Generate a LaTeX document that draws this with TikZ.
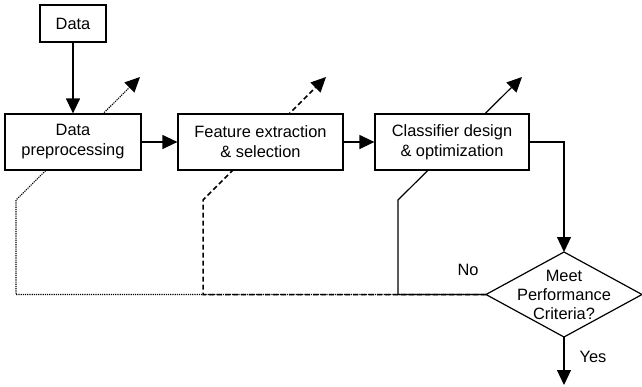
\documentclass[tikz,border=0pt]{standalone}
\usepackage{fontspec}
\setmainfont{Liberation Sans}
\usetikzlibrary{arrows.meta,backgrounds}
\begin{document}
\begin{tikzpicture}[x=1pt,y=-1pt,
  every node/.style={font=\fontsize{16.4}{20}\selectfont},
  box/.style={draw,line width=1.2pt,fill=white,align=center,inner sep=0pt},
  tip/.style={-{Triangle[length=15pt,width=14pt]}},
  flow/.style={line width=1.2pt,tip},
  dotline/.style={line width=1.1pt,dash pattern=on 1.2pt off 1pt,tip},
  dashline/.style={line width=1.5pt,dash pattern=on 5pt off 3pt,tip},
  solidline/.style={line width=1.2pt,tip},
  lbl/.style={inner sep=0pt}]
\useasboundingbox (0,0) rectangle (642,386);

% process boxes
\node[box,minimum width=66pt,minimum height=37pt] (data) at (73,23.5) {Data};
\node[box,minimum width=136pt,minimum height=56pt] (pre) at (73,142) {Data\\preprocessing};
\node[box,minimum width=165pt,minimum height=56pt] (feat) at (260.5,142) {Feature extraction\\\& selection};
\node[box,minimum width=154pt,minimum height=56pt] (cls) at (452,142) {Classifier design\\\& optimization};

% decision diamond
\coordinate (dN) at (564,252);
\coordinate (dE) at (642,294.5);
\coordinate (dS) at (564,337);
\coordinate (dW) at (486,294.5);
\draw[line width=1.2pt,line join=miter] (dN) -- (dE) -- (dS) -- (dW) -- cycle;
\node[align=center,font=\fontsize{16.4}{19}\selectfont,inner sep=0pt] (crit) at (564,295) {Meet\\Performance\\Criteria?};

% free ends of the arrows
\coordinate (o1) at (140,77);
\coordinate (o2) at (326,77);
\coordinate (o3) at (522,77);
\coordinate (yes) at (564,385);

% main flow
\draw[flow] (data) -- (pre);
\draw[flow] (pre) -- (feat);
\draw[flow] (feat) -- (cls);
\draw[flow] (cls.east) -| (dN);
\draw[flow] (dS) -- (yes);

% feedback paths, running behind the boxes
\begin{pgfonlayer}{background}
\draw[dotline] (dW) -| (16,200) -- (o1);
\draw[dashline] (dW) -| (203,200) -- (o2);
\draw[solidline] (dW) -| (398,200) -- (o3);
\end{pgfonlayer}

\node[lbl] (no) at (468,270) {No};
\node[lbl] (yeslbl) at (593,357) {Yes};
\end{tikzpicture}
\end{document}
